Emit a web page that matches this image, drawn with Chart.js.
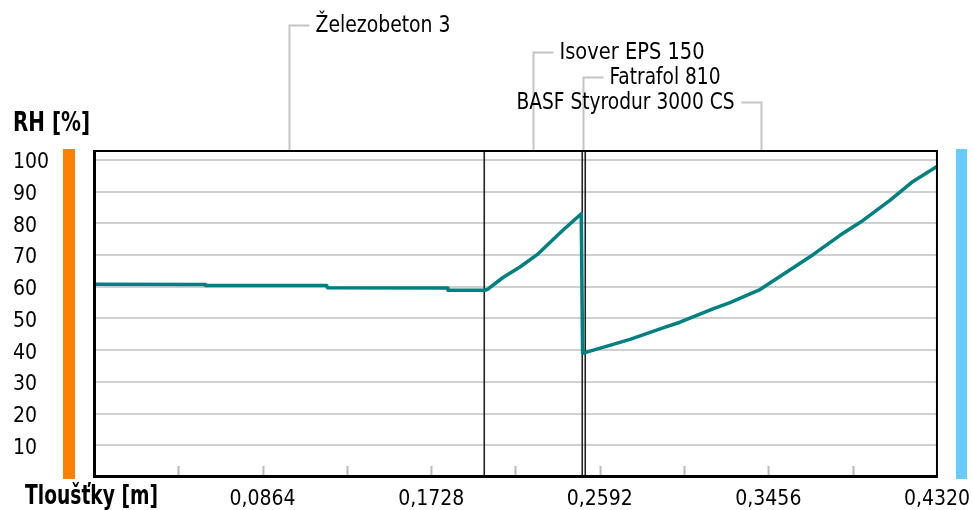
<!DOCTYPE html>
<html>
<head>
<meta charset="utf-8">
<script src="https://cdn.jsdelivr.net/npm/chart.js@4.4.1/dist/chart.umd.min.js"></script>
<style>
    html, body { margin: 0; padding: 0; background: #fff; }
    #wrap { width: 972px; height: 510px; position: relative; }
</style>
</head>
<body>
<div id="wrap"><canvas id="rhChart"></canvas></div>
<script>
/* ================= DATA ================= */
const layerNames = ["Železobeton 3", "Isover EPS 150", "Fatrafol 810", "BASF Styrodur 3000 CS"];
const layerEdges = [0, 0.2, 0.25, 0.2515, 0.432];

const posX = [0, 0.0569, 0.0571, 0.1192, 0.1196, 0.1810, 0.1814, 0.2,
              0.2015, 0.2096, 0.2183, 0.2271, 0.2389, 0.2497,
              0.2504, 0.2516, 0.266, 0.2747, 0.2916, 0.3003, 0.3172, 0.3259, 0.3413,
              0.3515, 0.3685, 0.3823, 0.3941, 0.4079, 0.4197, 0.432];
const rhValues = [60.8, 60.7, 60.4, 60.4, 59.7, 59.6, 58.9, 58.9,
                  59.1, 62.9, 66.2, 70.1, 77.0, 83.0,
                  39.0, 39.2, 41.8, 43.4, 47.0, 48.8, 53.0, 55.0, 59.1,
                  63.2, 70.1, 76.2, 80.9, 87.2, 93.2, 97.9];

const xTickValues = [0, 0.0432, 0.0864, 0.1296, 0.1728, 0.216, 0.2592, 0.3024, 0.3456, 0.3888, 0.432];
const xTickLabels = ["", "", "0,0864", "", "0,1728", "", "0,2592", "", "0,3456", "", "0,4320"];
const yTickValues = [10, 20, 30, 40, 50, 60, 70, 80, 90, 100];

const yTitle = "RH [%]";
const xTitle = "Tloušťky [m]";

/* ================= STYLE ================= */
const FONT = "'DejaVu Sans Condensed', 'Liberation Sans', sans-serif";
Chart.defaults.font.family = FONT;
Chart.defaults.font.size = 21;
Chart.defaults.color = "#000";

/* ================= DECOR PLUGIN ================= */
const decor = {
    id: "decor",
    beforeDatasetsDraw(chart) {
        const { ctx, chartArea: a, scales: { x } } = chart;
        ctx.save();

        // minor ticks inside the bottom edge
        ctx.strokeStyle = "#b8b8b8";
        ctx.lineWidth = 2;
        xTickValues.slice(1, -1).forEach(v => {
            const px = Math.round(x.getPixelForValue(v)) + 0.5;
            ctx.beginPath();
            ctx.moveTo(px, a.bottom - 1);
            ctx.lineTo(px, a.bottom - 11);
            ctx.stroke();
        });

        // layer boundaries
        ctx.strokeStyle = "#222";
        ctx.lineWidth = 1.6;
        layerEdges.slice(1, -1).forEach(v => {
            const px = Math.round(x.getPixelForValue(v)) + 0.25;
            ctx.beginPath();
            ctx.moveTo(px, a.top);
            ctx.lineTo(px, a.bottom);
            ctx.stroke();
        });
        ctx.restore();
    },
    afterDraw(chart) {
        const { ctx, chartArea: a, scales: { x } } = chart;
        ctx.save();

        // frame
        ctx.strokeStyle = "#000";
        ctx.lineWidth = 2;
        ctx.strokeRect(a.left + 1, a.top + 1, a.right - a.left - 1, a.bottom - a.top - 1);
        ctx.fillStyle = "#000";
        ctx.fillRect(a.left - 1, a.top, 3, a.bottom - a.top + 1);
        ctx.fillRect(a.left - 1, a.bottom - 2, a.right - a.left + 1, 3);

        // boundary colour bars
        ctx.fillStyle = "#ff8000";
        ctx.fillRect(63, a.top - 1, 12, a.bottom - a.top + 3);
        ctx.fillStyle = "#66ccff";
        ctx.fillRect(956, a.top - 1, 11, a.bottom - a.top + 3);

        // layer names with leaders
        const rowY = [25, 52, 77, 102];
        const nameW = [135, 145, 111, 218];
        ctx.font = "23px " + FONT;
        ctx.textBaseline = "middle";
        layerNames.forEach((name, i) => {
            const mid = Math.round(x.getPixelForValue((layerEdges[i] + layerEdges[i + 1]) / 2)) + 0.5;
            const y = rowY[i] + 0.5;
            const toLeft = i === layerNames.length - 1;
            const end = toLeft ? mid - 20 : mid + 20;
            ctx.strokeStyle = "#c4c4c4";
            ctx.lineWidth = 2;
            ctx.beginPath();
            ctx.moveTo(mid, a.top);
            ctx.lineTo(mid, y);
            ctx.lineTo(end, y);
            ctx.stroke();
            ctx.fillStyle = "#000";
            ctx.textAlign = toLeft ? "right" : "left";
            ctx.fillText(name, toLeft ? end - 7 : end + 6, y + 1, nameW[i]);
        });

        // axis titles
        ctx.font = "bold 26px " + FONT;
        ctx.textAlign = "left";
        ctx.fillText(yTitle, 13, 124, 77);
        ctx.fillText(xTitle, 25, 497, 133);
        ctx.restore();
    }
};

/* ================= CHART ================= */
function renderRhChart() {
    const el = document.getElementById("rhChart");

    new Chart(el, {
        type: "scatter",
        data: {
            datasets: [{
                label: "RH",
                data: posX.map((v, i) => ({ x: v, y: rhValues[i] })),
                showLine: true,
                borderColor: "#008080",
                borderWidth: 3.5,
                borderJoinStyle: "round",
                tension: 0,
                pointRadius: 0
            }]
        },
        options: {
            responsive: true,
            maintainAspectRatio: false,
            animation: false,
            layout: { padding: { left: 13, top: 150, right: 35, bottom: 0 } },
            plugins: {
                legend: { display: false },
                tooltip: { enabled: false }
            },
            scales: {
                x: {
                    type: "linear",
                    min: 0,
                    max: 0.432,
                    border: { display: false },
                    grid: { display: false },
                    afterBuildTicks: s => { s.ticks = xTickValues.map(v => ({ value: v })); },
                    afterFit: s => { s.height = 33; },
                    ticks: {
                        autoSkip: false,
                        maxRotation: 0,
                        padding: 2,
                        callback: (v, i) => xTickLabels[i]
                    }
                },
                y: {
                    min: 0,
                    max: 103.1,
                    border: { display: false },
                    grid: {
                        color: "#d0d0d0",
                        lineWidth: 2,
                        drawTicks: false
                    },
                    afterBuildTicks: s => { s.ticks = yTickValues.map(v => ({ value: v })); },
                    afterFit: s => { s.width = 81; },
                    ticks: {
                        crossAlign: "far",
                        padding: 0,
                        labelOffset: 3
                    }
                }
            }
        },
        plugins: [decor]
    });
}

renderRhChart();
</script>
</body>
</html>
